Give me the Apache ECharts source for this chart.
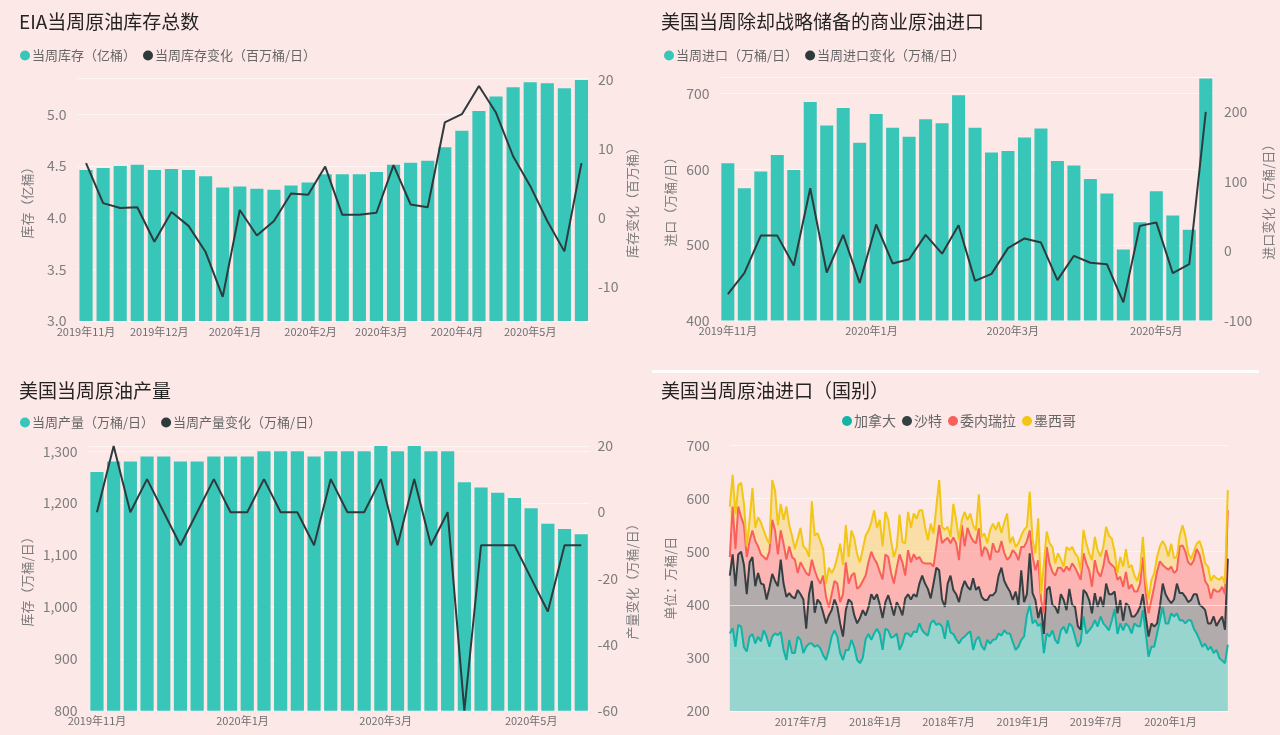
<!DOCTYPE html>
<html>
<head>
<meta charset="utf-8">
<script src="https://cdn.jsdelivr.net/npm/echarts@6/dist/echarts.min.js"></script>
<style>
html,body{margin:0;padding:0;background:#fde8e8;}
#c{width:1280px;height:735px;}
</style>
</head>
<body>
<div id="c"></div>
<script>
// ---------- data ----------
const weekDates = ['2019-11-01','2019-11-08','2019-11-15','2019-11-22','2019-11-29','2019-12-06','2019-12-13','2019-12-20','2019-12-27',
  '2020-01-03','2020-01-10','2020-01-17','2020-01-24','2020-01-31','2020-02-07','2020-02-14','2020-02-21','2020-02-28',
  '2020-03-06','2020-03-13','2020-03-20','2020-03-27','2020-04-03','2020-04-10','2020-04-17','2020-04-24',
  '2020-05-01','2020-05-08','2020-05-15','2020-05-22'];

const stockLevel  = [4.46,4.48,4.50,4.51,4.46,4.47,4.46,4.40,4.29,4.30,4.28,4.27,4.31,4.34,4.42,4.42,4.42,4.44,4.51,4.53,4.55,4.68,4.84,5.03,5.17,5.26,5.31,5.30,5.25,5.33];
const stockChange = [7.9,2.1,1.4,1.5,-3.5,0.8,-1.2,-5.0,-11.5,1.1,-2.6,-0.5,3.5,3.3,7.4,0.4,0.4,0.7,7.6,1.9,1.5,13.8,15.0,19.1,15.2,8.9,4.6,-0.5,-4.9,7.9];

const importLevel  = [608,575,597,619,599,689,658,681,635,673,655,643,666,661,698,655,622,624,642,654,611,605,587,568,494,530,571,539,520,720];
const importChange = [-62,-32,22,22,-21,90,-31,23,-46,38,-18,-12,23,-4,37,-43,-33,4,18,12,-42,-7,-17,-19,-74,36,41,-32,-19,200];

const prodLevel  = [1260,1280,1280,1290,1290,1280,1280,1290,1290,1290,1300,1300,1300,1290,1300,1300,1300,1310,1300,1310,1300,1300,1240,1230,1220,1210,1190,1160,1150,1140];
const prodChange = [0,20,0,10,0,-10,0,10,0,0,10,0,0,-10,10,0,0,10,-10,10,-10,0,-60,-10,-10,-10,-20,-30,-10,-10];

const countryDates = [
 '2017-01-06','2017-01-13','2017-01-20','2017-01-27','2017-02-03','2017-02-10','2017-02-17','2017-02-24','2017-03-03','2017-03-10',
 '2017-03-17','2017-03-24','2017-03-31','2017-04-07','2017-04-14','2017-04-21','2017-04-28','2017-05-05','2017-05-12','2017-05-19',
 '2017-05-26','2017-06-02','2017-06-09','2017-06-16','2017-06-23','2017-06-30','2017-07-07','2017-07-14','2017-07-21','2017-07-28',
 '2017-08-04','2017-08-11','2017-08-18','2017-08-25','2017-09-01','2017-09-08','2017-09-15','2017-09-22','2017-09-29','2017-10-06',
 '2017-10-13','2017-10-20','2017-10-27','2017-11-03','2017-11-10','2017-11-17','2017-11-24','2017-12-01','2017-12-08','2017-12-15',
 '2017-12-22','2017-12-29',
 '2018-01-05','2018-01-12','2018-01-19','2018-01-26','2018-02-02','2018-02-09','2018-02-16','2018-02-23','2018-03-02','2018-03-09',
 '2018-03-16','2018-03-23','2018-03-30','2018-04-06','2018-04-13','2018-04-20','2018-04-27','2018-05-04','2018-05-11','2018-05-18',
 '2018-05-25','2018-06-01','2018-06-08','2018-06-15','2018-06-22','2018-06-29','2018-07-06','2018-07-13','2018-07-20','2018-07-27',
 '2018-08-03','2018-08-10','2018-08-17','2018-08-24','2018-08-31','2018-09-07','2018-09-14','2018-09-21','2018-09-28','2018-10-05',
 '2018-10-12','2018-10-19','2018-10-26','2018-11-02','2018-11-09','2018-11-16','2018-11-23','2018-11-30','2018-12-07','2018-12-14',
 '2018-12-21','2018-12-28',
 '2019-01-04','2019-01-11','2019-01-18','2019-01-25','2019-02-01','2019-02-08','2019-02-15','2019-02-22','2019-03-01','2019-03-08',
 '2019-03-15','2019-03-22','2019-03-29','2019-04-05','2019-04-12','2019-04-19','2019-04-26','2019-05-03','2019-05-10','2019-05-17',
 '2019-05-24','2019-05-31','2019-06-07','2019-06-14','2019-06-21','2019-06-28','2019-07-05','2019-07-12','2019-07-19','2019-07-26',
 '2019-08-02','2019-08-09','2019-08-16','2019-08-23','2019-08-30','2019-09-06','2019-09-13','2019-09-20','2019-09-27','2019-10-04',
 '2019-10-11','2019-10-18','2019-10-25','2019-11-01','2019-11-08','2019-11-15','2019-11-22','2019-11-29','2019-12-06','2019-12-13',
 '2019-12-20','2019-12-27',
 '2020-01-03','2020-01-10','2020-01-17','2020-01-24','2020-01-31','2020-02-07','2020-02-14','2020-02-21','2020-02-28','2020-03-06',
 '2020-03-13','2020-03-20','2020-03-27','2020-04-03','2020-04-10','2020-04-17','2020-04-24','2020-05-01','2020-05-08','2020-05-15',
 '2020-05-22'];

const canada = [
 346,356,321,362,359,320,312,340,345,327,
 340,331,352,340,321,340,346,343,349,315,
 296,334,309,309,340,334,309,321,327,327,
 321,324,318,305,296,315,340,352,340,309,
 296,315,315,334,320,296,290,300,335,345,
 334,346,355,345,315,355,352,338,340,346,
 315,327,346,346,340,350,348,365,352,346,
 342,365,371,362,365,359,336,371,348,345,
 335,327,336,340,346,350,315,334,340,322,
 315,334,327,334,335,346,342,352,346,346,
 330,315,321,334,340,380,400,365,371,360,
 365,309,346,340,352,334,327,352,359,346,
 365,359,340,321,330,378,346,352,359,371,
 359,378,365,359,352,370,392,345,365,352,
 365,359,346,365,360,359,390,346,302,321,
 321,346,371,396,365,365,384,378,384,371,
 371,365,371,371,355,346,334,321,327,315,
 321,309,315,300,295,290,325];
const saudi = [
 109,139,114,133,141,155,108,140,145,108,
 120,109,86,70,111,118,99,92,136,125,
 119,88,106,103,88,86,101,34,93,118,
 64,86,85,80,69,65,50,58,56,56,
 44,75,95,71,60,69,85,90,45,50,
 86,64,65,55,60,50,66,62,40,59,
 80,53,66,74,70,70,67,75,103,94,
 88,47,69,108,100,51,60,69,107,83,
 85,78,94,105,88,78,135,94,94,93,
 94,75,91,84,90,109,128,93,88,79,
 79,110,79,131,65,40,97,57,38,15,
 31,36,82,94,48,62,57,68,50,44,
 65,41,56,39,23,50,76,57,25,51,
 37,37,31,81,68,50,33,39,44,18,
 38,39,32,13,25,37,30,32,38,44,
 38,19,25,44,55,45,19,32,56,51,
 51,50,34,38,65,74,66,75,63,50,
 44,69,45,70,83,63,162];
const venezuela = [
 35,90,70,90,65,75,70,40,50,85,
 50,55,52,75,68,102,95,60,55,75,
 70,88,75,73,32,60,60,105,35,40,
 80,40,37,70,50,15,30,35,44,40,
 80,90,30,50,80,65,60,55,75,85,
 80,77,58,62,73,90,72,60,60,65,
 100,100,43,83,70,75,71,50,25,38,
 48,66,32,40,85,106,126,86,61,99,
 96,79,120,65,111,102,70,88,110,76,
 100,94,66,98,75,45,50,53,51,65,
 94,72,84,44,104,100,43,69,56,109,
 13,39,81,44,62,59,86,50,53,82,
 35,78,74,99,94,69,56,56,50,62,
 66,38,76,63,60,55,45,63,44,64,
 59,32,60,47,40,44,70,44,44,44,
 75,97,86,35,50,56,69,50,25,88,
 90,85,75,66,64,85,95,76,55,71,
 47,52,65,55,56,67,91];
const mexico = [
 95,60,65,40,65,40,20,40,80,25,
 55,60,50,40,15,75,75,55,50,45,
 100,40,40,20,65,65,40,45,35,110,
 65,85,80,50,25,75,40,25,50,110,
 55,70,50,85,65,65,45,60,75,60,
 55,91,67,98,62,80,70,60,50,39,
 75,38,61,72,65,77,76,88,98,69,
 44,75,62,75,85,31,19,21,12,63,
 44,38,10,65,15,42,30,24,64,37,
 25,13,57,37,41,56,15,57,87,26,
 25,12,32,21,32,27,73,31,32,79,
 11,94,29,38,47,23,27,15,10,37,
 38,31,27,31,18,44,38,32,50,44,
 41,38,37,44,50,50,30,13,37,38,
 43,40,37,30,20,25,38,25,26,38,
 25,28,28,45,40,25,43,28,25,20,
 38,30,17,11,16,10,25,33,33,36,
 33,25,25,22,19,20,38];

const monthTicksA = ['2019-11-01','2019-12-01','2020-01-01','2020-02-01','2020-03-01','2020-04-01','2020-05-01'];
const monthTicksB = ['2019-11-01','2020-01-01','2020-03-01','2020-05-01'];
const monthTicksC = ['2017-07-01','2018-01-01','2018-07-01','2019-01-01','2019-07-01','2020-01-01'];

// ---------- helpers ----------
const FONT = "'Noto Sans CJK SC','Noto Sans',sans-serif";
const TEAL = '#38C6B9', DARK = '#2E3A3C', LBL = '#7d7d7d';
const DAY = 86400000;
const ts = s => echarts.time.parse(s).getTime();
const pairs = (d, v) => d.map((x, i) => [ts(x), v[i]]);
// value first, date second (so that stacking acts on the value dimension)
const pairsVX = (d, v) => d.map((x, i) => [v[i], ts(x)]);
function ymLabel(v) { const d = new Date(v); return d.getFullYear() + '年' + (d.getMonth() + 1) + '月'; }
function multipleOf(v, step) { const r = v / step; return Math.abs(r - Math.round(r)) < 1e-6; }

// date axis: a value axis holding timestamps, labelled at month starts
function xDate(gridIndex, dates, ticks, pad) {
  return {
    type: 'value', gridIndex, scale: true,
    min: ts(dates[0]) - pad * DAY, max: ts(dates[dates.length - 1]) + pad * DAY,
    axisLine: { show: false }, axisTick: { show: false }, splitLine: { show: false },
    axisLabel: { customValues: ticks.map(ts), formatter: ymLabel, color: '#6e6e6e', fontSize: 11, margin: 5, fontFamily: FONT, hideOverlap: false, showMinLabel: true, showMaxLabel: true }
  };
}
function yVal(o) {
  return {
    type: 'value', gridIndex: o.grid, position: o.pos, min: o.min, max: o.max, interval: o.interval,
    name: o.name, nameLocation: 'middle', nameGap: o.gap, nameRotate: 90,
    nameTextStyle: { color: LBL, fontSize: 13, fontFamily: FONT },
    axisLine: { show: false }, axisTick: { show: false },
    splitLine: { show: !!o.split, lineStyle: { color: 'rgba(255,255,255,0.55)', width: 1 } },
    axisLabel: {
      color: LBL, fontSize: 14, fontFamily: FONT, margin: o.margin,
      formatter: v => multipleOf(v, o.step) && v <= o.lastLabel + 1e-9 ? o.fmt(v) : ''
    }
  };
}
function legend(left, top, names, size, gap) {
  return { left, top, icon: 'circle', itemWidth: 10, itemHeight: 10, itemGap: gap,
    textStyle: { color: '#666', fontSize: size, fontFamily: FONT, padding: [0, 0, 0, -3] }, data: names };
}
function title(text, left, top) {
  return { text, left, top, textStyle: { fontSize: 19, fontWeight: 'normal', color: '#252423', fontFamily: FONT } };
}
function areaSeries(name, values, line, fill, extra) {
  return Object.assign({
    name, type: 'line', stack: 'imp', xAxisIndex: 3, yAxisIndex: 6,
    data: pairsVX(countryDates, values), encode: { x: 1, y: 0 }, showSymbol: false,
    lineStyle: { width: 2, color: line }, itemStyle: { color: line }, areaStyle: { color: fill, opacity: 1 }
  }, extra || {});
}

const chart = echarts.init(document.getElementById('c'), null, { renderer: 'canvas' });

const option = {
  backgroundColor: '#fde8e8',
  animation: false,
  title: [
    title('EIA当周原油库存总数', 14, 7),
    title('美国当周除却战略储备的商业原油进口', 656, 7),
    title('美国当周原油产量', 14, 376),
    title('美国当周原油进口（国别）', 656, 376)
  ],
  legend: [
    legend(15, 44, ['当周库存（亿桶）', '当周库存变化（百万桶/日）'], 13, 7),
    legend(659, 44, ['当周进口（万桶/日）', '当周进口变化（万桶/日）'], 13, 7),
    legend(15, 411, ['当周产量（万桶/日）', '当周产量变化（万桶/日）'], 13, 7),
    legend(837, 409, ['加拿大', '沙特', '委内瑞拉', '墨西哥'], 14, 6)
  ],
  graphic: [
    { type: 'rect', shape: { x: 652, y: 370, width: 607, height: 3 }, style: { fill: 'rgba(255,255,255,0.9)' }, silent: true }
  ],
  grid: [
    { left: 77.5, top: 78, width: 512.5, height: 243 },
    { left: 719.6, top: 77, width: 494.4, height: 243.5 },
    { left: 88.6, top: 446, width: 501, height: 264.7 },
    { left: 729.8, top: 445.5, width: 498, height: 265.5 }
  ],
  xAxis: [
    xDate(0, weekDates, monthTicksA, 3.5),
    xDate(1, weekDates, monthTicksB, 3.5),
    xDate(2, weekDates, monthTicksB, 3.5),
    xDate(3, countryDates, monthTicksC, 0)
  ],
  yAxis: [
    yVal({ grid: 0, pos: 'left', min: 3.0, max: 5.35, interval: 0.5, step: 0.5, lastLabel: 5.0, name: '库存（亿桶）', gap: 44, margin: 11, split: true, fmt: v => v.toFixed(1) }),
    yVal({ grid: 0, pos: 'right', min: -15, max: 20.25, interval: 5, step: 10, lastLabel: 20, name: '库存变化（百万桶）', gap: 36, margin: 8, fmt: v => String(v) }),
    yVal({ grid: 1, pos: 'left', min: 400, max: 722, interval: 100, step: 100, lastLabel: 700, name: '进口（万桶/日）', gap: 43, margin: 10, split: true, fmt: v => String(v) }),
    yVal({ grid: 1, pos: 'right', min: -100, max: 250, interval: 100, step: 100, lastLabel: 200, name: '进口变化（万桶/日）', gap: 48, margin: 10, fmt: v => String(v) }),
    yVal({ grid: 2, pos: 'left', min: 800, max: 1310, interval: 100, step: 100, lastLabel: 1300, name: '库存（万桶/日）', gap: 55, margin: 11, split: true, fmt: v => v.toLocaleString('en-US') }),
    yVal({ grid: 2, pos: 'right', min: -60, max: 20, interval: 20, step: 20, lastLabel: 20, name: '产量变化（万桶/日）', gap: 36, margin: 8, fmt: v => String(v) }),
    yVal({ grid: 3, pos: 'left', min: 200, max: 700, interval: 100, step: 100, lastLabel: 700, name: '单位：万桶/日', gap: 53, margin: 20, split: true, fmt: v => String(v) })
  ],
  series: [
    { name: '当周库存（亿桶）', type: 'bar', xAxisIndex: 0, yAxisIndex: 0, data: pairs(weekDates, stockLevel), barWidth: '77%', itemStyle: { color: TEAL } },
    { name: '当周库存变化（百万桶/日）', type: 'line', xAxisIndex: 0, yAxisIndex: 1, data: pairs(weekDates, stockChange), showSymbol: false, lineStyle: { width: 2, color: DARK }, itemStyle: { color: DARK } },

    { name: '当周进口（万桶/日）', type: 'bar', xAxisIndex: 1, yAxisIndex: 2, data: pairs(weekDates, importLevel), barWidth: '79%', itemStyle: { color: TEAL } },
    { name: '当周进口变化（万桶/日）', type: 'line', xAxisIndex: 1, yAxisIndex: 3, data: pairs(weekDates, importChange), showSymbol: false, lineStyle: { width: 2, color: DARK }, itemStyle: { color: DARK } },

    { name: '当周产量（万桶/日）', type: 'bar', xAxisIndex: 2, yAxisIndex: 4, data: pairs(weekDates, prodLevel), barWidth: '79%', itemStyle: { color: TEAL } },
    { name: '当周产量变化（万桶/日）', type: 'line', xAxisIndex: 2, yAxisIndex: 5, data: pairs(weekDates, prodChange), showSymbol: false, lineStyle: { width: 2, color: DARK }, itemStyle: { color: DARK } },

    areaSeries('加拿大', canada, '#0FB5A6', 'rgba(1,184,170,0.4)'),
    areaSeries('沙特', saudi, '#363F42', 'rgba(55,70,73,0.38)'),
    areaSeries('委内瑞拉', venezuela, '#F9605B', 'rgba(253,98,94,0.38)'),
    areaSeries('墨西哥', mexico, '#F2C614', 'rgba(242,200,15,0.3)', {
      markLine: { silent: true, symbol: 'none', label: { show: false }, data: [{ yAxis: 400 }], lineStyle: { color: 'rgba(255,255,255,0.55)', width: 1, type: 'solid' } }
    })
  ]
};
chart.setOption(option);
</script>
</body>
</html>
